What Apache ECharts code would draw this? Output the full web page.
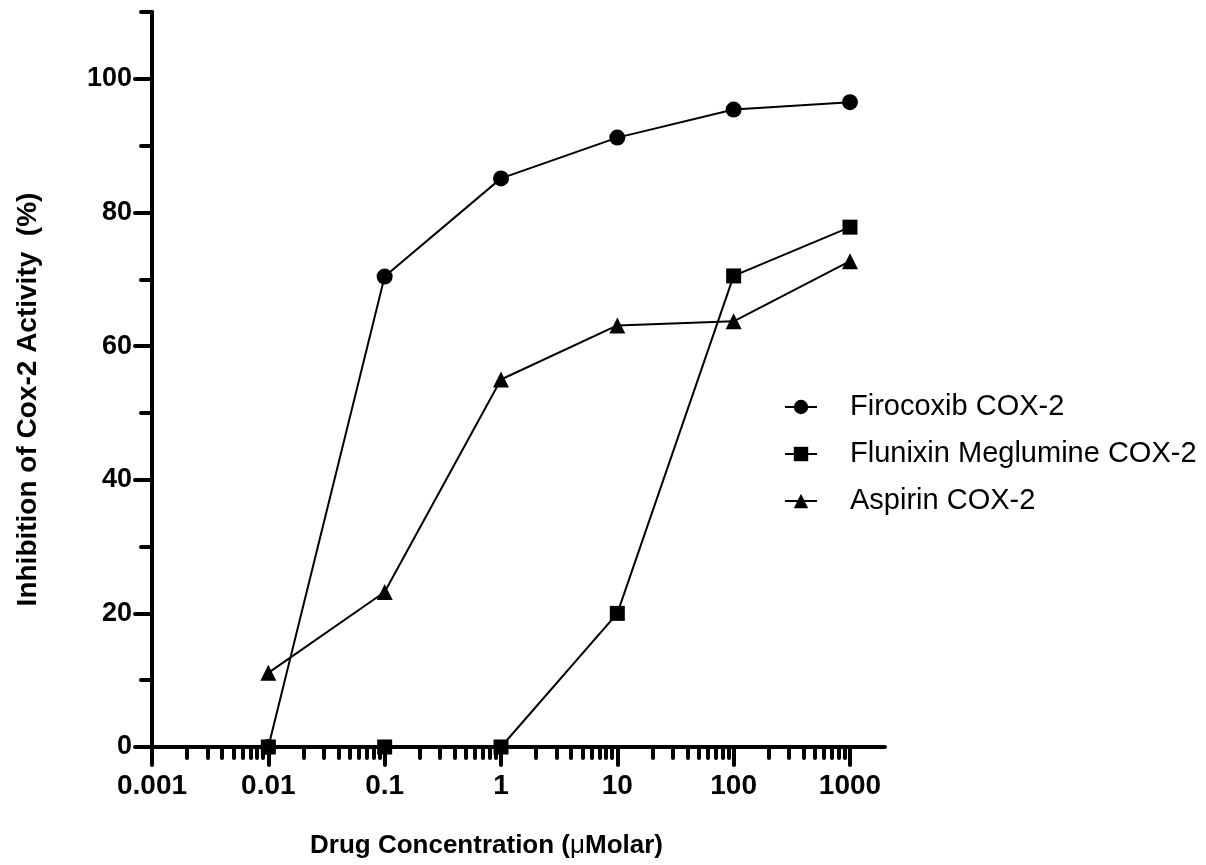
<!DOCTYPE html>
<html>
<head>
<meta charset="utf-8">
<script src="https://cdn.jsdelivr.net/npm/echarts@6/dist/echarts.min.js"></script>
<style>
  html, body { margin: 0; padding: 0; background: #ffffff; }
  #chart { width: 1206px; height: 865px; }
</style>
</head>
<body>
<div id="chart"></div>
<script>
// Drug concentrations (µM) and percent inhibition of COX-2 activity
const concentrations = [0.01, 0.1, 1, 10, 100, 1000];
const firocoxib = [0, 70.4, 85.1, 91.2, 95.4, 96.5];
const flunixin = [0, 0, 0, 20.0, 70.5, 77.8];
const aspirin = [11.1, 23.2, 55.0, 63.1, 63.7, 72.7];

const seriesNames = ['Firocoxib COX-2', 'Flunixin Meglumine COX-2', 'Aspirin COX-2'];

// Axis tick positions and labels
const xMajorTicks = [0.001, 0.01, 0.1, 1, 10, 100, 1000];
const xMajorLabels = ['0.001', '0.01', '0.1', '1', '10', '100', '1000'];
const xMinorTicks = [
  0.002, 0.003, 0.004, 0.005, 0.006, 0.007, 0.008, 0.009,
  0.02, 0.03, 0.04, 0.05, 0.06, 0.07, 0.08, 0.09,
  0.2, 0.3, 0.4, 0.5, 0.6, 0.7, 0.8, 0.9,
  2, 3, 4, 5, 6, 7, 8, 9,
  20, 30, 40, 50, 60, 70, 80, 90,
  200, 300, 400, 500, 600, 700, 800, 900
];
const yMajorTicks = [0, 20, 40, 60, 80, 100];
const yMajorLabels = ['0', '20', '40', '60', '80', '100'];
const yMinorTicks = [10, 30, 50, 70, 90, 110];

const FONT = '"Liberation Sans", Arial, Helvetica, sans-serif';

function pairs(values) {
  return concentrations.map((c, i) => [c, values[i]]);
}

function xLabel(v) {
  let best = 0;
  xMajorTicks.forEach((t, i) => {
    if (Math.abs(Math.log10(t) - Math.log10(v)) < Math.abs(Math.log10(xMajorTicks[best]) - Math.log10(v))) best = i;
  });
  return xMajorLabels[best];
}
function yLabel(v) {
  const i = yMajorTicks.indexOf(Math.round(v));
  return i >= 0 ? yMajorLabels[i] : '';
}

const axisInk = { color: '#000', width: 4, cap: 'round' };

const chart = echarts.init(document.getElementById('chart'), null, { renderer: 'canvas' });

const lineCommon = {
  type: 'line',
  xAxisIndex: 0,
  yAxisIndex: 0,
  showAllSymbol: true,
  clip: false,
  animation: false,
  lineStyle: { color: '#000', width: 2 },
  itemStyle: { color: '#000', borderWidth: 0 },
  emphasis: { disabled: true }
};

chart.setOption({
  backgroundColor: '#ffffff',
  animation: false,
  grid: { left: 152, right: 321, top: 12, bottom: 118, containLabel: false },
  legend: {
    left: 779,
    top: 387,
    orient: 'vertical',
    itemWidth: 32,
    itemHeight: 18,
    itemGap: 17,
    selectedMode: false,
    textStyle: {
      fontFamily: FONT,
      fontSize: 29,
      color: '#000',
      lineHeight: 30,
      padding: [0, 0, 0, 28]
    },
    data: seriesNames
  },
  xAxis: [
    {
      type: 'log',
      position: 'bottom',
      min: 0.001,
      max: 2000,
      logBase: 10,
      name: 'Drug Concentration ({mu|μ}Molar)',
      nameLocation: 'middle',
      nameGap: 86,
      nameTextStyle: {
        fontFamily: FONT,
        fontSize: 26,
        fontWeight: 'bold',
        color: '#000',
        padding: [0, 64, 0, 0],
        rich: {
          mu: { fontFamily: FONT, fontSize: 26, fontWeight: 'normal', color: '#000' }
        }
      },
      axisLine: { show: true, onZero: false, lineStyle: axisInk },
      axisTick: { show: true, length: 18, customValues: xMajorTicks, lineStyle: axisInk },
      minorTick: { show: false },
      axisLabel: {
        customValues: xMajorTicks,
        margin: 25,
        fontFamily: FONT,
        fontSize: 28,
        fontWeight: 'bold',
        color: '#000',
        formatter: xLabel
      },
      splitLine: { show: false }
    },
    {
      type: 'log',
      position: 'bottom',
      min: 0.001,
      max: 2000,
      logBase: 10,
      axisLine: { show: false, onZero: false },
      axisTick: { show: true, length: 11, customValues: xMinorTicks, lineStyle: axisInk },
      axisLabel: { show: false },
      splitLine: { show: false }
    }
  ],
  yAxis: [
    {
      type: 'value',
      position: 'left',
      min: 0,
      max: 110,
      name: 'Inhibition of Cox-2 Activity  (%)',
      nameLocation: 'middle',
      nameGap: 110,
      nameRotate: 90,
      nameTextStyle: {
        fontFamily: FONT,
        fontSize: 28,
        fontWeight: 'bold',
        color: '#000',
        padding: [0, 40, 0, 0]
      },
      axisLine: { show: true, onZero: false, lineStyle: axisInk },
      axisTick: { show: true, length: 17, customValues: yMajorTicks, lineStyle: axisInk },
      axisLabel: {
        customValues: yMajorTicks,
        margin: 20,
        fontFamily: FONT,
        fontSize: 27,
        fontWeight: 'bold',
        color: '#000',
        formatter: yLabel
      },
      splitLine: { show: false }
    },
    {
      type: 'value',
      position: 'left',
      min: 0,
      max: 110,
      axisLine: { show: false, onZero: false },
      axisTick: { show: true, length: 11, customValues: yMinorTicks, lineStyle: axisInk },
      axisLabel: { show: false },
      splitLine: { show: false }
    }
  ],
  series: [
    Object.assign({}, lineCommon, {
      name: seriesNames[0],
      symbol: 'circle',
      symbolSize: 16,
      data: pairs(firocoxib)
    }),
    Object.assign({}, lineCommon, {
      name: seriesNames[1],
      symbol: 'rect',
      symbolSize: 15,
      data: pairs(flunixin)
    }),
    Object.assign({}, lineCommon, {
      name: seriesNames[2],
      symbol: 'triangle',
      symbolSize: 16,
      data: pairs(aspirin)
    })
  ]
});
</script>
</body>
</html>
